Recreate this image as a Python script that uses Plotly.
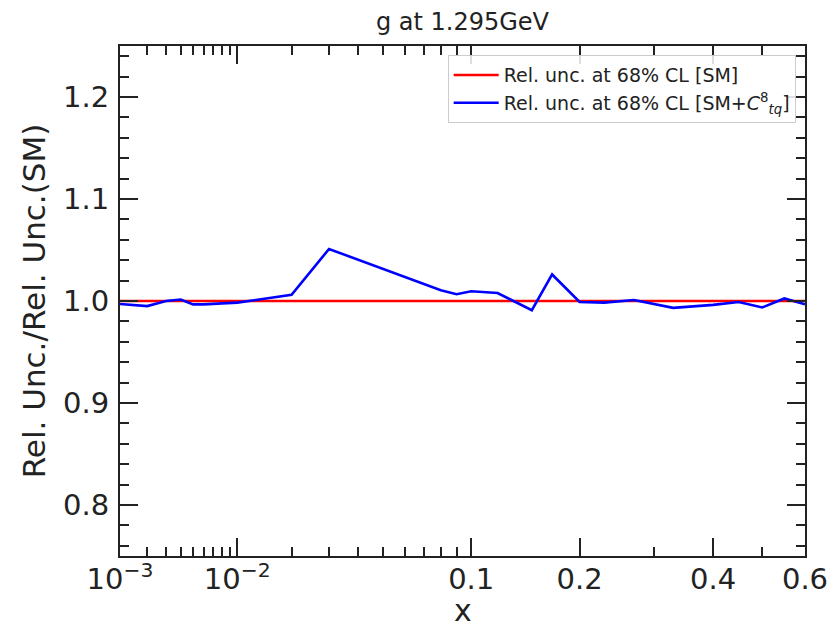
import plotly.graph_objects as go

# ---------------- data ----------------
x_vals = [0.001, 0.002, 0.003, 0.004, 0.005, 0.006, 0.008, 0.01, 0.02, 0.03,
          0.08, 0.09, 0.1, 0.12, 0.15, 0.17, 0.2, 0.23, 0.27, 0.33,
          0.4, 0.45, 0.5, 0.55, 0.6]
ratio_sm = [1.0, 1.0, 1.0, 1.0, 1.0, 1.0, 1.0, 1.0, 1.0, 1.0,
            1.0, 1.0, 1.0, 1.0, 1.0, 1.0, 1.0, 1.0, 1.0, 1.0,
            1.0, 1.0, 1.0, 1.0, 1.0]
ratio_bsm = [0.997, 0.995, 1.000, 1.0015, 0.9967, 0.9967, 0.9977, 0.9984, 1.006, 1.051,
             1.0105, 1.0067, 1.0095, 1.0078, 0.991, 1.026, 0.999, 0.9984, 1.001, 0.9933,
             0.9962, 0.999, 0.9937, 1.0025, 0.9968]

x_major = [0.001, 0.01, 0.1, 0.2, 0.4, 0.6]
x_major_labels = ["10<sup>−3</sup>", "10<sup>−2</sup>", "0.1", "0.2", "0.4", "0.6"]
x_minor = [0.002, 0.003, 0.004, 0.005, 0.006, 0.007, 0.008, 0.009,
           0.02, 0.03, 0.04, 0.05, 0.06, 0.07, 0.08, 0.09, 0.3, 0.5]
y_major = [0.8, 0.9, 1.0, 1.1, 1.2]
y_minor = [0.76, 0.78, 0.82, 0.84, 0.86, 0.88, 0.92, 0.94, 0.96, 0.98,
           1.02, 1.04, 1.06, 1.08, 1.12, 1.14, 1.16, 1.18, 1.22, 1.24]

label_sm = "Rel. unc. at 68% CL [SM]"
label_bsm = "Rel. unc. at 68% CL [SM+<i>C</i><sup>8</sup><sub><i>tq</i></sub>]"
x_title = "x"
y_title = "Rel. Unc./Rel. Unc.(SM)"
plot_title = "g at 1.295GeV"

# x axis uses a power-law scale (x**0.3)
POW = 0.3
def scale(v):
    return [t ** POW for t in v]

FONT = "DejaVu Sans"
AX = "#222222"
W, H = 830, 624  # page body has an 8px margin at top-left

fig = go.Figure()
fig.add_trace(go.Scatter(x=scale(x_vals), y=ratio_sm, mode="lines", name=label_sm,
                         line=dict(color="#ff0000", width=2.6)))
fig.add_trace(go.Scatter(x=scale(x_vals), y=ratio_bsm, mode="lines", name=label_bsm,
                         line=dict(color="#0000ff", width=2.6)))

fig.update_layout(
    width=W, height=H,
    margin=dict(l=112, r=33, t=38, b=76, autoexpand=False),
    paper_bgcolor="white", plot_bgcolor="white",
    font=dict(family=FONT, color=AX),
    title=dict(text=plot_title, x=0.5, xref="paper", xanchor="center",
               y=1 - 14 / H, yref="container", yanchor="middle",
               font=dict(size=24, family=FONT, color=AX)),
    legend=dict(x=0.9864, y=0.982, xanchor="right", yanchor="top",
                bgcolor="rgba(255,255,255,0.85)", bordercolor="#cccccc", borderwidth=1,
                itemwidth=45,
                font=dict(size=19, family=FONT, color=AX)),
    showlegend=True,
    annotations=[dict(text=x_title, x=0.5, xref="paper", y=0, yref="paper",
                      xanchor="center", yanchor="middle", yshift=-54, showarrow=False,
                      font=dict(size=30, family=FONT, color=AX))],
)

fig.update_xaxes(
    range=[x_major[0] ** POW, x_major[-1] ** POW],
    tickmode="array", tickvals=scale(x_major), ticktext=x_major_labels,
    ticks="inside", ticklen=18, tickwidth=1.8, tickcolor=AX,
    ticklabelstandoff=-4,
    tickfont=dict(size=29, family=FONT, color=AX),
    minor=dict(tickmode="array", tickvals=scale(x_minor), ticks="inside",
               ticklen=9, tickwidth=1.5, tickcolor=AX, showgrid=False),
    showline=True, linecolor=AX, linewidth=2, mirror="ticks",
    showgrid=False, zeroline=False, automargin=False,
)
fig.update_yaxes(
    range=[0.75, 1.25],
    tickmode="array", tickvals=y_major, ticktext=[f"{v:.1f}" for v in y_major],
    ticks="inside", ticklen=18, tickwidth=1.8, tickcolor=AX,
    ticklabelstandoff=3,
    tickfont=dict(size=29, family=FONT, color=AX),
    minor=dict(tickmode="array", tickvals=y_minor, ticks="inside",
               ticklen=9, tickwidth=1.5, tickcolor=AX, showgrid=False),
    showline=True, linecolor=AX, linewidth=2, mirror="ticks",
    showgrid=False, zeroline=False, automargin=False,
    title=dict(text=y_title, font=dict(size=31, family=FONT, color=AX), standoff=8),
)

fig.write_html("out.html")
